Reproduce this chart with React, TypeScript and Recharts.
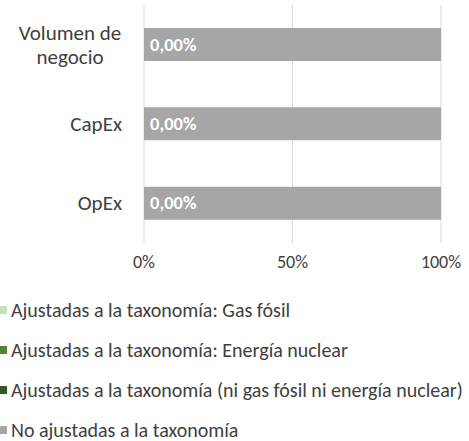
import React from "react";
import { BarChart, Bar, XAxis, YAxis, CartesianGrid, Legend, LabelList } from "recharts";

const categories = ["Volumen de negocio", "CapEx", "OpEx"];
const categoryLines = [["Volumen de", "negocio"], ["CapEx"], ["OpEx"]];
const gasFosil = [0, 0, 0];
const energiaNuclear = [0, 0, 0];
const ajustadasOtras = [0, 0, 0];
const noAjustadas = [100, 100, 100];
const xTicks = [0, 50, 100];

const seriesNames = [
  "Ajustadas a la taxonomía: Gas fósil",
  "Ajustadas a la taxonomía: Energía nuclear",
  "Ajustadas a la taxonomía (ni gas fósil ni energía nuclear)",
  "No ajustadas a la taxonomía",
];
const seriesColors = ["#c5e0b4", "#548235", "#375623", "#a6a6a6"];

const data = categories.map((c, i) => ({
  name: c,
  gas: gasFosil[i],
  nuclear: energiaNuclear[i],
  otras: ajustadasOtras[i],
  no: noAjustadas[i],
  aligned: gasFosil[i] + energiaNuclear[i] + ajustadasOtras[i],
}));

const FONT = "Carlito, Calibri, Lato, 'Open Sans', sans-serif";
const TEXT = "#404040";

const fmt = (v: number) => v.toFixed(2).replace(".", ",") + "%";

const YTick = (props: any) => {
  const { x, y, payload } = props;
  const idx = categories.indexOf(payload.value);
  const lines = categoryLines[idx] || [payload.value];
  if (lines.length === 1) {
    return (
      <text x={x - 14} y={y} dy={7} textAnchor="end" fontSize={21} fill={TEXT} fontFamily={FONT}>
        {lines[0]}
      </text>
    );
  }
  const lh = 24;
  const startY = y - ((lines.length - 1) * lh) / 2;
  return (
    <text x={x - 66} y={startY} dy={7} textAnchor="middle" fontSize={21} fill={TEXT} fontFamily={FONT}>
      {lines.map((l: string, i: number) => (
        <tspan key={i} x={x - 66} y={startY + i * lh} dy={7}>
          {l}
        </tspan>
      ))}
    </text>
  );
};

const LegendContent = () => (
  <div style={{ fontFamily: FONT, fontSize: 20, color: TEXT }}>
    {seriesNames.map((n, i) => (
      <div key={n} style={{ height: 40, display: "flex", alignItems: "center", whiteSpace: "nowrap" }}>
        <span style={{ display: "inline-block", width: 7, height: 8, background: seriesColors[i], marginRight: 4 }} />
        <span>{n}</span>
      </div>
    ))}
  </div>
);

export default function App() {
  return (
    <div style={{ position: "absolute", left: 0, top: 0, width: 469, height: 441, background: "#fff" }}>
      <BarChart
        width={469}
        height={441}
        data={data}
        layout="vertical"
        margin={{ top: 5, right: 28, bottom: 0, left: 0 }}
        barCategoryGap="29%"
      >
        <CartesianGrid horizontal={false} stroke="#d9d9d9" />
        <XAxis
          type="number"
          domain={[0, 100]}
          ticks={xTicks}
          tickFormatter={(v: number) => `${v}%`}
          axisLine={false}
          tickLine={false}
          tick={{ fontSize: 18, fill: TEXT, fontFamily: FONT }}
          height={198}
          dy={4}
          orientation="bottom"
        />
        <YAxis
          type="category"
          dataKey="name"
          width={144}
          axisLine={false}
          tickLine={false}
          tick={<YTick />}
        />
        <Legend
          content={<LegendContent />}
          wrapperStyle={{ position: "absolute", top: 290, left: 0, width: 469, height: 0 }}
        />
        <Bar dataKey="gas" stackId="a" fill={seriesColors[0]} isAnimationActive={false} name={seriesNames[0]} />
        <Bar dataKey="nuclear" stackId="a" fill={seriesColors[1]} isAnimationActive={false} name={seriesNames[1]} />
        <Bar dataKey="otras" stackId="a" fill={seriesColors[2]} isAnimationActive={false} name={seriesNames[2]} />
        <Bar dataKey="no" stackId="a" fill={seriesColors[3]} isAnimationActive={false} name={seriesNames[3]}>
          <LabelList
            dataKey="aligned"
            content={(p: any) => (
              <text
                x={p.x + 6}
                y={p.y + p.height / 2}
                dy={6}
                fill="#ffffff"
                fontWeight="bold"
                fontSize={18.5}
                fontFamily={FONT}
              >
                {fmt(p.value)}
              </text>
            )}
          />
        </Bar>
      </BarChart>
    </div>
  );
}
